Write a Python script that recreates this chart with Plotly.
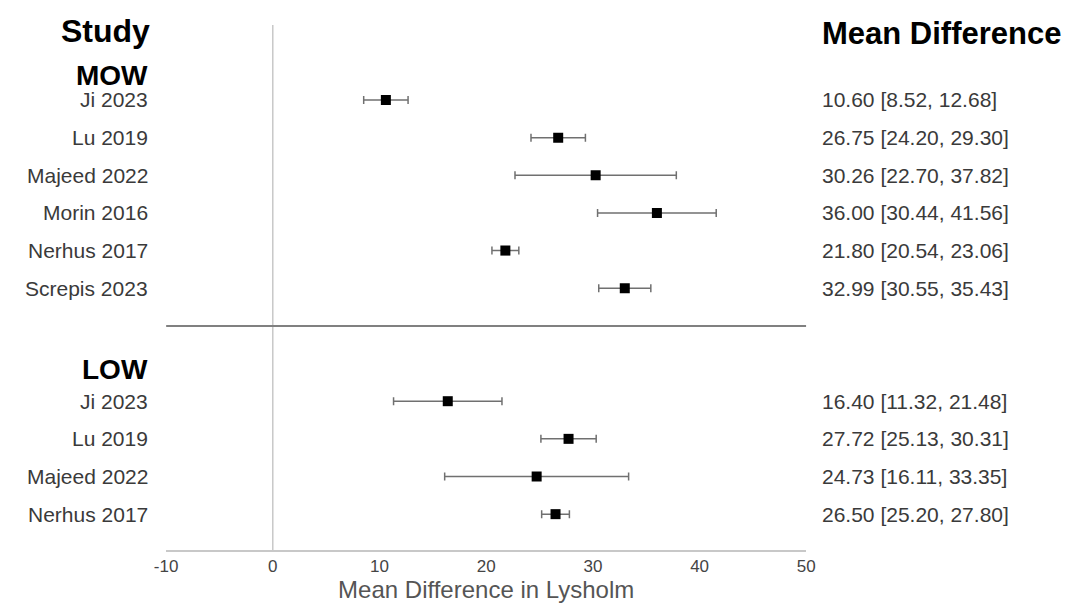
import plotly.graph_objects as go

# ---- data ----
mow_studies = ["Ji 2023", "Lu 2019", "Majeed 2022", "Morin 2016", "Nerhus 2017", "Screpis 2023"]
mow_md = [10.60, 26.75, 30.26, 36.00, 21.80, 32.99]
mow_lo = [8.52, 24.20, 22.70, 30.44, 20.54, 30.55]
mow_hi = [12.68, 29.30, 37.82, 41.56, 23.06, 35.43]

low_studies = ["Ji 2023", "Lu 2019", "Majeed 2022", "Nerhus 2017"]
low_md = [16.40, 27.72, 24.73, 26.50]
low_lo = [11.32, 25.13, 16.11, 25.20]
low_hi = [21.48, 30.31, 33.35, 27.80]

x_ticks = [-10, 0, 10, 20, 30, 40, 50]
x_title = "Mean Difference in Lysholm"

# row positions (row index on the y axis)
mow_rows = list(range(len(mow_studies)))
low_rows = [8 + i for i in range(len(low_studies))]
divider_row = 6
mow_header_row = -0.66
low_header_row = 7.15

FONT = "Liberation Sans, Arial, Helvetica, sans-serif"
W, H = 1071, 603
x0_px, x1_px = 149, 802
y_top_px, y_bot_px = 17, 542

fig = go.Figure()

def add_group(rows, md, lo, hi):
    fig.add_trace(go.Scatter(
        x=md, y=rows, mode="markers",
        marker=dict(symbol="square", size=10, color="black"),
        error_x=dict(type="data", symmetric=False,
                     array=[h - m for h, m in zip(hi, md)],
                     arrayminus=[m - l for m, l in zip(md, lo)],
                     color="#707070", thickness=1.5, width=4),
        showlegend=False, hoverinfo="skip"))

# y range mapping rows to pixel positions
row_px0, row_step = 92, 37.65
y_top = (y_top_px - row_px0) / row_step
y_bot = (y_bot_px - row_px0) / row_step

# zero line (inside plot area only)
fig.add_shape(type="line", xref="x", yref="y", x0=0, x1=0, y0=y_top, y1=y_bot,
              line=dict(color="#c8c8c8", width=1.5), layer="below")
# divider between subgroups (same extent as the x axis)
fig.add_shape(type="line", xref="x", yref="y", x0=x_ticks[0], x1=x_ticks[-1],
              y0=divider_row, y1=divider_row,
              line=dict(color="#808080", width=2))

add_group(mow_rows, mow_md, mow_lo, mow_hi)
add_group(low_rows, low_md, low_lo, low_hi)

label_x = 133 / W
value_x = 816 / W
ann = []
for rows, names, md, lo, hi in [(mow_rows, mow_studies, mow_md, mow_lo, mow_hi),
                                (low_rows, low_studies, low_md, low_lo, low_hi)]:
    for r, n, m, l, h in zip(rows, names, md, lo, hi):
        ann.append(dict(x=label_x, y=r, xref="paper", yref="y", text=n,
                        xanchor="right", yanchor="middle", showarrow=False,
                        font=dict(family=FONT, size=21, color="#3a3a3a")))
        ann.append(dict(x=value_x, y=r, xref="paper", yref="y",
                        text=f"{m:.2f} [{l:.2f}, {h:.2f}]",
                        xanchor="left", yanchor="middle", showarrow=False,
                        font=dict(family=FONT, size=21, color="#3a3a3a")))

for txt, r in [("MOW", mow_header_row), ("LOW", low_header_row)]:
    ann.append(dict(x=label_x, y=r, xref="paper", yref="y", text=f"<b>{txt}</b>",
                    xanchor="right", yanchor="middle", showarrow=False,
                    font=dict(family=FONT, size=28, color="black")))

ann.append(dict(x=135 / W, y=1 - 23 / H, xref="paper", yref="paper", text="<b>Study</b>",
                xanchor="right", yanchor="middle", showarrow=False,
                font=dict(family=FONT, size=32, color="black")))
ann.append(dict(x=value_x, y=1 - 25 / H, xref="paper", yref="paper",
                text="<b>Mean Difference</b>",
                xanchor="left", yanchor="middle", showarrow=False,
                font=dict(family=FONT, size=31, color="black")))

fig.update_layout(
    width=W, height=H,
    margin=dict(l=0, r=0, t=0, b=0),
    plot_bgcolor="white", paper_bgcolor="white",
    annotations=ann,
    xaxis=dict(domain=[x0_px / W, x1_px / W], range=[x_ticks[0], x_ticks[-1]],
               tickvals=x_ticks, ticktext=[str(t) for t in x_ticks],
               showgrid=False, zeroline=False,
               showline=True, linecolor="#c8c8c8", linewidth=2,
               ticks="", tickfont=dict(family=FONT, size=17, color="#444444"),
               title=dict(text=x_title, font=dict(family=FONT, size=24, color="#555555"),
                          standoff=6)),
    yaxis=dict(domain=[1 - y_bot_px / H, 1 - y_top_px / H], range=[y_bot, y_top],
               showgrid=False, zeroline=False, showline=False,
               showticklabels=False, ticks=""),
)

fig.write_html("out.html")
